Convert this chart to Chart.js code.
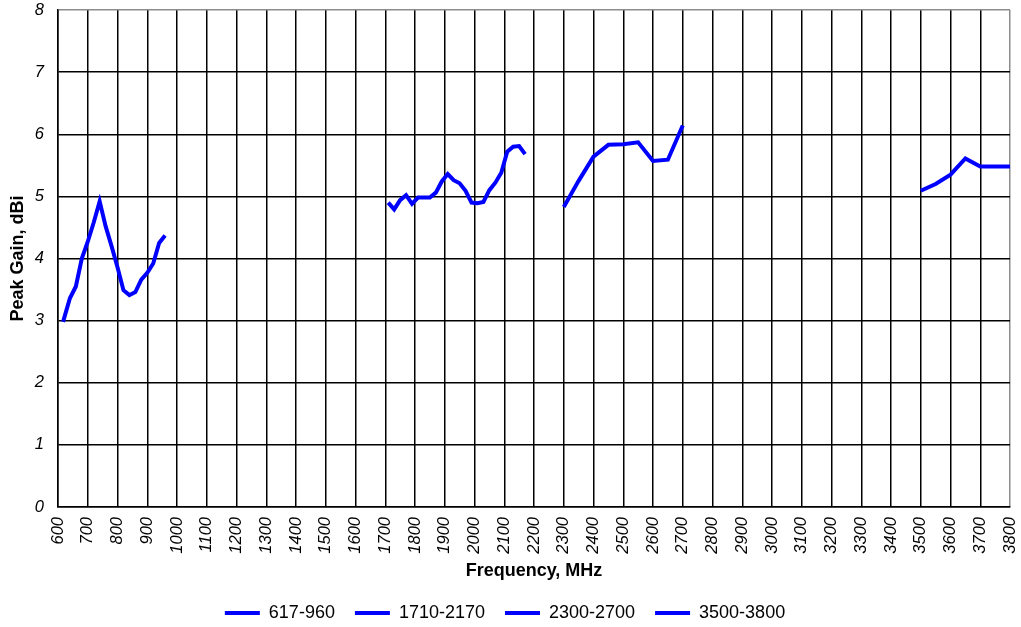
<!DOCTYPE html>
<html>
<head>
<meta charset="utf-8">
<script src="https://cdn.jsdelivr.net/npm/chart.js@4"></script>
<style>
  body { margin: 0; background: #fff; }
  #wrap { width: 1021px; height: 627px; }
</style>
</head>
<body>
<div id="wrap"><canvas id="chart" width="1021" height="627"></canvas></div>
<script>
// Peak gain per band
const freq617 = [617, 640, 660, 680, 700, 720, 740, 760, 780, 800, 820, 840, 860, 880, 900, 920, 940, 960]
const gain617 = [2.98, 3.36, 3.55, 4.0, 4.27, 4.58, 4.92, 4.52, 4.2, 3.86, 3.49, 3.41, 3.46, 3.66, 3.77, 3.92, 4.25, 4.37]

const freq1710 = [1710, 1730, 1750, 1770, 1790, 1810, 1830, 1850, 1870, 1890, 1910, 1930, 1950, 1970, 1990, 2010, 2030, 2050, 2070, 2090, 2110, 2130, 2150, 2170]
const gain1710 = [4.90, 4.79, 4.94, 5.02, 4.88, 4.98, 4.98, 4.98, 5.06, 5.24, 5.36, 5.26, 5.21, 5.09, 4.90, 4.89, 4.91, 5.10, 5.22, 5.38, 5.72, 5.80, 5.81, 5.68]

const freq2300 = [2300, 2350, 2400, 2450, 2500, 2550, 2600, 2650, 2700]
const gain2300 = [4.83, 5.25, 5.64, 5.83, 5.84, 5.87, 5.57, 5.59, 6.14]

const freq3500 = [3500, 3550, 3600, 3650, 3700, 3750, 3800]
const gain3500 = [5.09, 5.20, 5.35, 5.61, 5.48, 5.48, 5.48]

const seriesNames = ['617-960', '1710-2170', '2300-2700', '3500-3800']

const xTickValues = [600, 700, 800, 900, 1000, 1100, 1200, 1300, 1400, 1500, 1600, 1700, 1800, 1900, 2000, 2100, 2200,
  2300, 2400, 2500, 2600, 2700, 2800, 2900, 3000, 3100, 3200, 3300, 3400, 3500, 3600, 3700, 3800]
const yTickValues = [0, 1, 2, 3, 4, 5, 6, 7, 8]

const FONT = '"Liberation Sans", Arial, sans-serif'
const BLUE = '#0000ff'

function toPoints(xs, ys) {
  return xs.map((x, i) => ({ x: x, y: ys[i] }))
}

function lineDataset(label, xs, ys) {
  return {
    label: label,
    data: toPoints(xs, ys),
    borderColor: BLUE,
    backgroundColor: BLUE,
    borderWidth: 4,
    pointRadius: 0,
    tension: 0,
    fill: false
  }
}

const ctx = document.getElementById('chart').getContext('2d')

new Chart(ctx, {
  type: 'line',
  data: {
    datasets: [
      lineDataset(seriesNames[0], freq617, gain617),
      lineDataset(seriesNames[1], freq1710, gain1710),
      lineDataset(seriesNames[2], freq2300, gain2300),
      lineDataset(seriesNames[3], freq3500, gain3500)
    ]
  },
  options: {
    responsive: false,
    animation: false,
    layout: {
      padding: { top: 10, right: 11, left: 0, bottom: -5 }
    },
    plugins: {
      tooltip: { enabled: false },
      legend: {
        position: 'bottom',
        labels: {
          boxWidth: 35,
          boxHeight: 4,
          padding: 20,
          color: '#000',
          font: { family: FONT, size: 18 },
          generateLabels(chart) {
            const items = Chart.defaults.plugins.legend.labels.generateLabels(chart)
            items.forEach(item => {
              item.lineWidth = 0
              item.fillStyle = BLUE
            })
            return items
          }
        }
      }
    },
    scales: {
      x: {
        type: 'linear',
        min: 600,
        max: 3800,
        afterBuildTicks(scale) {
          scale.ticks = xTickValues.map(v => ({ value: v }))
        },
        afterFit(scale) {
          scale.height = 77
          scale.paddingLeft = 0
          scale.paddingRight = 0
        },
        ticks: {
          autoSkip: false,
          minRotation: 90,
          maxRotation: 90,
          padding: 10,
          color: '#000',
          font: { family: FONT, size: 16.5, style: 'italic' },
          callback: v => String(v)
        },
        grid: {
          drawTicks: false,
          lineWidth: 1.5,
          color: c => (c.tick && c.tick.value === 3800 ? '#8c8c8c' : '#000')
        },
        border: { color: '#000', width: 1.5 },
        title: {
          display: true,
          text: 'Frequency, MHz',
          color: '#000',
          font: { family: FONT, size: 18, weight: 'bold' },
          padding: { top: 0, bottom: 2 }
        }
      },
      y: {
        type: 'linear',
        min: 0,
        max: 8,
        afterBuildTicks(scale) {
          scale.ticks = yTickValues.map(v => ({ value: v }))
        },
        afterFit(scale) {
          scale.width = 58
          scale.paddingTop = 0
          scale.paddingBottom = 0
        },
        ticks: {
          padding: 14,
          color: '#000',
          font: { family: FONT, size: 16.5, style: 'italic' },
          callback: v => String(v)
        },
        grid: {
          drawTicks: false,
          lineWidth: 1.5,
          color: c => (c.tick && c.tick.value === 8 ? '#8c8c8c' : '#000')
        },
        border: { color: '#000', width: 1.5 },
        title: {
          display: true,
          text: 'Peak Gain, dBi',
          color: '#000',
          font: { family: FONT, size: 18, weight: 'bold' },
          padding: { top: 7, bottom: 0 }
        }
      }
    }
  }
})
</script>
</body>
</html>
